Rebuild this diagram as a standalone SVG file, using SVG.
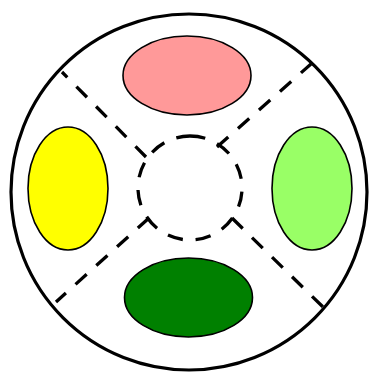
<svg xmlns="http://www.w3.org/2000/svg" width="370" height="372" viewBox="0 0 370 372">
  <style>
    .outer { fill: #ffffff; stroke: #000000; stroke-width: 3.2; }
    .dash { fill: none; stroke: #000000; stroke-width: 3.3; stroke-dasharray: 15 13; }
    .inner { fill: none; stroke: #000000; stroke-width: 3.3; stroke-dasharray: 15.5 12.9; }
    .node { stroke: #000000; stroke-width: 1.6; }
  </style>
  <rect width="370" height="372" fill="#ffffff"/>
  <g id="outer-circle">
    <circle class="outer" cx="189" cy="192" r="178"/>
  </g>
  <g id="connectors">
    <line class="dash" x1="146" y1="157" x2="62" y2="72"/>
    <line class="dash" x1="217" y1="147" x2="311" y2="64"/>
    <line class="dash" x1="149" y1="218" x2="56" y2="302"/>
    <line class="dash" x1="232" y1="218" x2="323" y2="307"/>
  </g>
  <g id="center">
    <path class="inner" d="M190,136 A52,52 0 1,1 190,240 A52,52 0 1,1 190,136"/>
  </g>
  <g id="top">
    <ellipse class="node" cx="187" cy="75.5" rx="64" ry="39.5" fill="#ff9999"/>
  </g>
  <g id="left">
    <ellipse class="node" cx="68" cy="188.5" rx="40" ry="61.5" fill="#ffff00"/>
  </g>
  <g id="right">
    <ellipse class="node" cx="312" cy="188.5" rx="40" ry="61.5" fill="#99ff66"/>
  </g>
  <g id="bottom">
    <ellipse class="node" cx="188.5" cy="297.5" rx="64" ry="39.5" fill="#008000"/>
  </g>
</svg>
